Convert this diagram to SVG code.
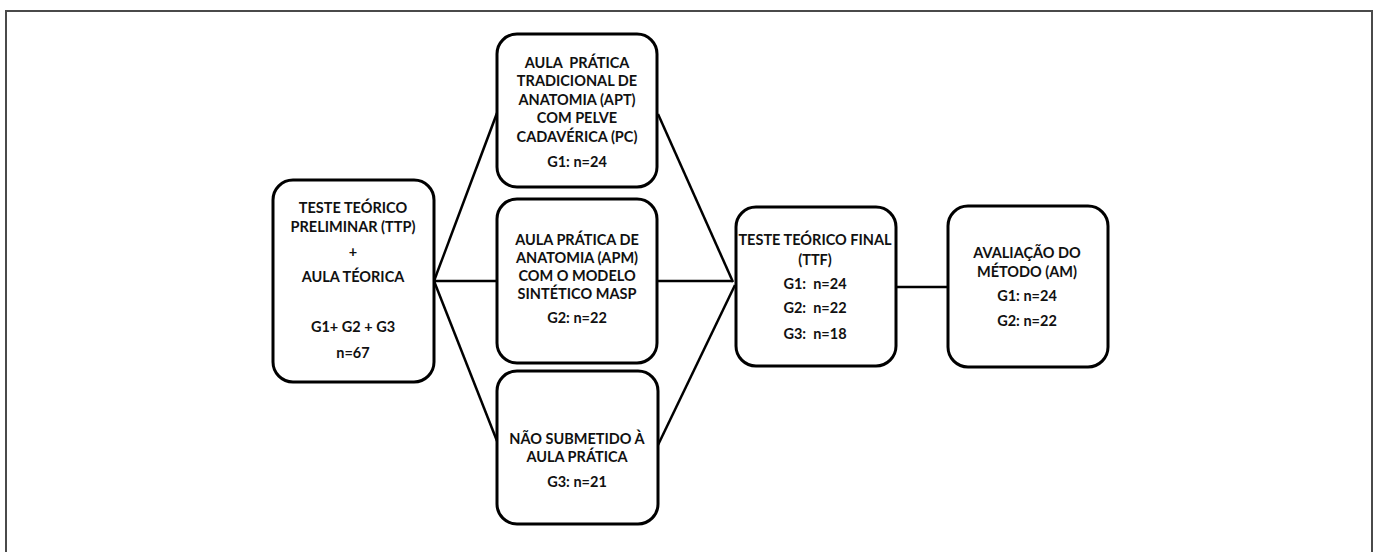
<svg xmlns="http://www.w3.org/2000/svg" width="1378" height="552" viewBox="0 0 1378 552">
<style>
.box{fill:#fff;stroke:#000;stroke-width:3}
.t{font-family:Lato,"Liberation Sans",Arial,sans-serif;font-weight:bold;font-size:14.5px;fill:#111;text-anchor:middle;white-space:pre}
.c{stroke:#000;stroke-width:2.5;fill:none}
</style>
<rect x="0" y="0" width="1378" height="552" fill="#fff"/>
<rect x="6" y="11" width="1366" height="560" fill="none" stroke="#4a4a4a" stroke-width="2"/>
<g id="connectors">
<line class="c" x1="434" y1="281" x2="497" y2="113"/>
<line class="c" x1="434" y1="281" x2="497" y2="281"/>
<line class="c" x1="434" y1="281" x2="497" y2="441"/>
<line class="c" x1="658" y1="114" x2="733" y2="282"/>
<line class="c" x1="657" y1="281" x2="733" y2="281"/>
<line class="c" x1="658" y1="445" x2="735" y2="285"/>
<line class="c" x1="896" y1="287" x2="948" y2="287"/>
</g>
<g id="node-ttp">
<rect class="box" x="273" y="180" width="161" height="202" rx="20"/>
<text class="t" x="353" y="213">TESTE TEÓRICO</text>
<text class="t" x="353" y="232">PRELIMINAR (TTP)</text>
<text class="t" x="353" y="257">+</text>
<text class="t" x="353" y="282">AULA TÉORICA</text>
<text class="t" x="353" y="332">G1+ G2 + G3</text>
<text class="t" x="353" y="358">n=67</text>
</g>
<g id="node-apt">
<rect class="box" x="497" y="34" width="160" height="153" rx="20"/>
<text class="t" x="577" y="68">AULA  PRÁTICA</text>
<text class="t" x="577" y="86">TRADICIONAL DE</text>
<text class="t" x="577" y="105">ANATOMIA (APT)</text>
<text class="t" x="577" y="123">COM PELVE</text>
<text class="t" x="577" y="142">CADAVÉRICA (PC)</text>
<text class="t" x="577" y="167">G1: n=24</text>
</g>
<g id="node-apm">
<rect class="box" x="497" y="199" width="160" height="164" rx="20"/>
<text class="t" x="577" y="245">AULA PRÁTICA DE</text>
<text class="t" x="577" y="263">ANATOMIA (APM)</text>
<text class="t" x="577" y="281">COM O MODELO</text>
<text class="t" x="577" y="299">SINTÉTICO MASP</text>
<text class="t" x="577" y="323">G2: n=22</text>
</g>
<g id="node-nsap">
<rect class="box" x="497" y="371" width="161" height="153" rx="20"/>
<text class="t" x="577" y="444">NÃO SUBMETIDO À</text>
<text class="t" x="577" y="462">AULA PRÁTICA</text>
<text class="t" x="577" y="487">G3: n=21</text>
</g>
<g id="node-ttf">
<rect class="box" x="736" y="207" width="160" height="159" rx="20"/>
<text class="t" x="815" y="245">TESTE TEÓRICO FINAL</text>
<text class="t" x="815" y="265">(TTF)</text>
<text class="t" x="815" y="289">G1:  n=24</text>
<text class="t" x="815" y="313">G2:  n=22</text>
<text class="t" x="815" y="339">G3:  n=18</text>
</g>
<g id="node-am">
<rect class="box" x="948" y="206" width="160" height="161" rx="20"/>
<text class="t" x="1027" y="258">AVALIAÇÃO DO</text>
<text class="t" x="1027" y="277">MÉTODO (AM)</text>
<text class="t" x="1027" y="301">G1: n=24</text>
<text class="t" x="1027" y="326">G2: n=22</text>
</g>
</svg>
